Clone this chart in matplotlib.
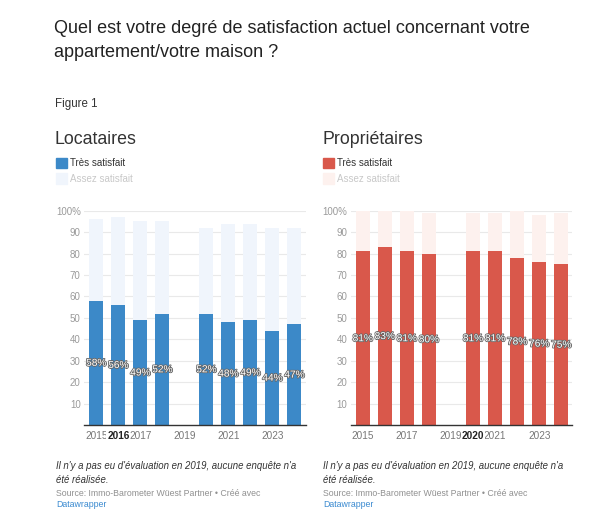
import matplotlib
matplotlib.use("Agg")
import matplotlib.pyplot as plt
import matplotlib.patheffects as pe
from matplotlib.patches import Rectangle

plt.rcParams['font.family'] = ['Liberation Sans', 'DejaVu Sans']

# ---- data ----
years = [2015, 2016, 2017, 2018, 2020, 2021, 2022, 2023, 2024]
loc_tres = [58, 56, 49, 52, 52, 48, 49, 44, 47]
loc_assez = [38, 41, 46, 43, 40, 46, 45, 48, 45]
prop_tres = [81, 83, 81, 80, 81, 81, 78, 76, 75]
prop_assez = [19, 17, 19, 19, 18, 18, 22, 22, 24]
xtick_years = [2015, 2016, 2017, 2019, 2021, 2023]
xtick_years_r = [2015, 2017, 2019, 2020, 2021, 2023]
yticks = [10, 20, 30, 40, 50, 60, 70, 80, 90, 100]
ytick_labels = ['10', '20', '30', '40', '50', '60', '70', '80', '90', '100%']

note1 = "Il n'y a pas eu d'évaluation en 2019, aucune enquête n'a"
note2 = "été réalisée."
source = "Source: Immo-Barometer Wüest Partner • Créé avec"

BLUE = '#3c89c8'
BLUE_L = '#f0f5fc'
RED = '#d9584b'
RED_L = '#fdf1ee'

W, H = 600, 526
fig = plt.figure(figsize=(W / 100, H / 100), dpi=100)


def fx(x):
    return x / W


def fy(y):
    return 1 - y / H


def ftext(x, y, s, **kw):
    fig.text(fx(x), fy(y), s, **kw)


# title
ftext(54, 33, "Quel est votre degré de satisfaction actuel concernant votre",
      fontsize=13, color='#222222', va='baseline')
ftext(54, 57, "appartement/votre maison ?", fontsize=13, color='#222222', va='baseline')
ftext(55, 107, "Figure 1", fontsize=8.3, color='#333333', va='baseline')


def panel(rect, tres, assez, col, col_l, name, x0, ticks, bold_year):
    ax = fig.add_axes(rect)
    ax.set_xlim(2014.45, 2024.5)
    ax.set_ylim(0, 100)
    for t in yticks:
        ax.axhline(t, color='#e9e9e9', lw=0.8, zorder=0)
    ax.bar(years, tres, width=0.635, color=col, zorder=2)
    ax.bar(years, assez, bottom=tres, width=0.635, color=col_l, zorder=2)
    for yr, v in zip(years, tres):
        ax.text(yr, v / 2, f"{v}%", ha='center', va='center', fontsize=7.3,
                color='white', zorder=5,
                path_effects=[pe.withStroke(linewidth=1.2, foreground='#666666')])
    for s in ['top', 'right', 'left']:
        ax.spines[s].set_visible(False)
    ax.spines['bottom'].set_color('#333333')
    ax.spines['bottom'].set_linewidth(1.0)
    ax.spines['bottom'].set_zorder(3)
    ax.set_yticks(yticks)
    ax.set_yticklabels(ytick_labels)
    ax.tick_params(axis='y', length=0, pad=2.5, labelsize=7, labelcolor='#9a9a9a')
    ax.set_xticks([])
    for yr in ticks:
        b = yr == bold_year
        ax.annotate(str(yr), xy=(yr, 0), xycoords=('data', 'axes fraction'),
                    xytext=(0, -7.7), textcoords='offset points',
                    ha='center', va='center', fontsize=7.2,
                    color='#222222' if b else '#777777',
                    fontweight='bold' if b else 'normal',
                    zorder=6 if b else 4, annotation_clip=False,
                    bbox=dict(facecolor='white', edgecolor='none', pad=0.6) if b else None)
    # panel title and legend
    ftext(x0, 144, name, fontsize=12.8, color='#333333', va='baseline')
    fig.patches.append(Rectangle((fx(x0 + 0.5), fy(168)), fx(11), 10 / H,
                                 transform=fig.transFigure, color=col, figure=fig))
    fig.patches.append(Rectangle((fx(x0 + 0.5), fy(183.5)), fx(11), 10 / H,
                                 transform=fig.transFigure, color=col_l, figure=fig))
    ftext(x0 + 15, 162.5, "Très satisfait", fontsize=7, color='#333333', va='center')
    ftext(x0 + 15, 179, "Assez satisfait", fontsize=7, color='#c8c8c8', va='center')
    # notes
    ftext(x0 + 1, 469, note1, fontsize=6.9, style='italic', color='#333333', va='baseline')
    ftext(x0 + 1, 483, note2, fontsize=6.9, style='italic', color='#333333', va='baseline')
    ftext(x0 + 1, 496.5, source, fontsize=6.3, color='#909090', va='baseline')
    ftext(x0 + 1, 507, "Datawrapper", fontsize=6.3, color='#3a8ad0', va='baseline')
    return ax


panel([fx(84.2), fy(425), (305.5 - 84.2) / W, (425 - 210.7) / H],
      loc_tres, loc_assez, BLUE, BLUE_L, "Locataires", 55, xtick_years, 2016)
panel([fx(350.7), fy(425), (572.3 - 350.7) / W, (425 - 210.7) / H],
      prop_tres, prop_assez, RED, RED_L, "Propriétaires", 322, xtick_years_r, 2020)

fig.savefig("out.png", dpi=100)
